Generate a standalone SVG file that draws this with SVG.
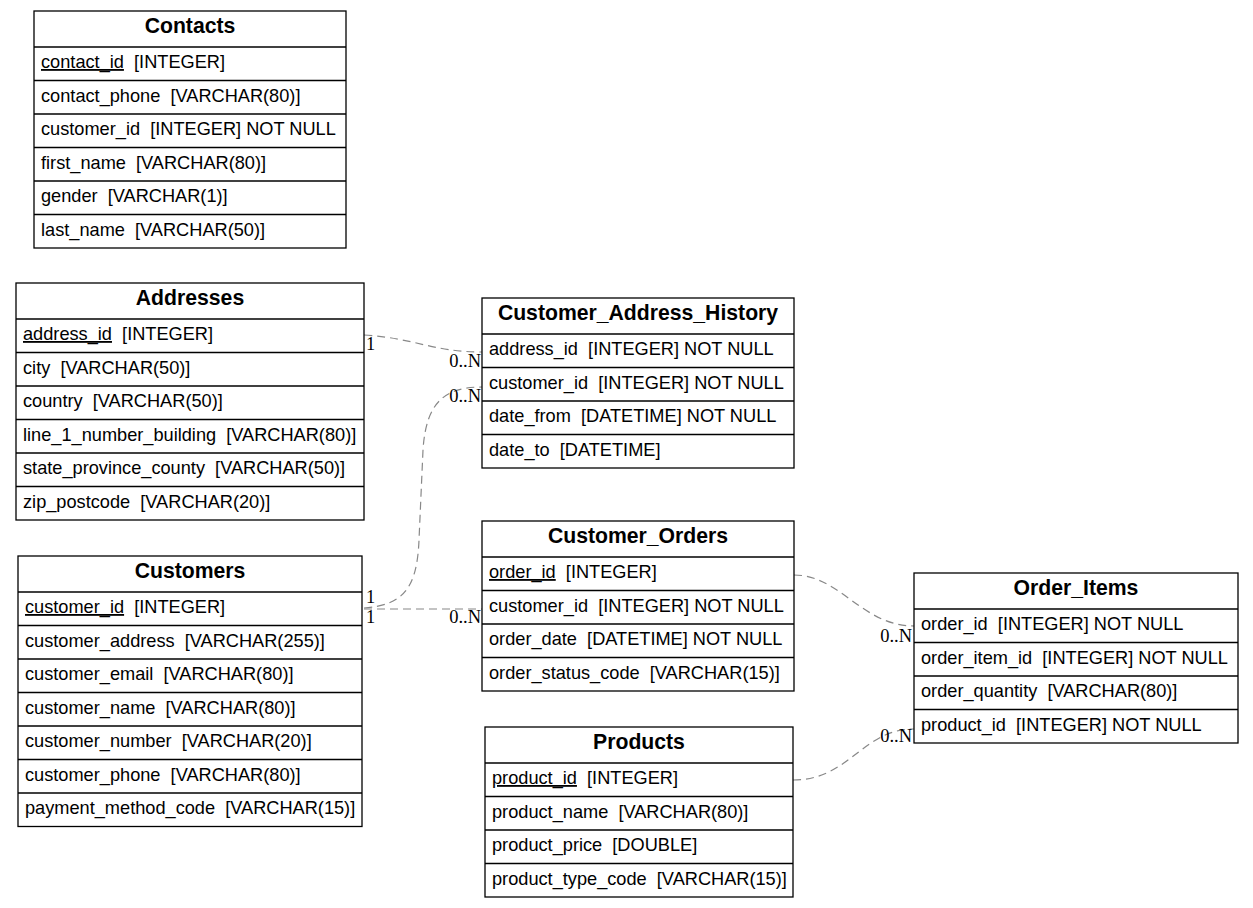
<svg xmlns="http://www.w3.org/2000/svg" width="1253" height="908" viewBox="0 0 1253 908">
<style>
.box{fill:#fff;stroke:#000;stroke-width:1.3}
.sep{stroke:#000;stroke-width:1.3}
.t{font-family:"Liberation Sans",Arial,sans-serif;font-size:21.2px;font-weight:bold;text-anchor:middle;fill:#000}
.r{font-family:"Liberation Sans",Arial,sans-serif;font-size:18.2px;fill:#000;white-space:pre}
.pk{text-decoration:underline}
.e{fill:none;stroke:#888;stroke-width:1.2;stroke-dasharray:8,5}
.l{font-family:"Liberation Serif","Times New Roman",serif;font-size:18.5px;fill:#000}
.le{font-family:"Liberation Serif","Times New Roman",serif;font-size:18.5px;fill:#000;text-anchor:end}
</style>
<rect width="1253" height="908" fill="#fff"/>

<g id="connectors">
<path class="e" d="M364,335 C415,338 432,352 482,352"/>
<path class="e" d="M364,608 C402,605 417,590 419,540 L423,450 C426,402 445,387 482,387"/>
<path class="e" d="M364,609 L482,609"/>
<path class="e" d="M794,575 C840,575 862,626 914,626"/>
<path class="e" d="M793,780 C850,780 862,729 914,729"/>
<text class="l" x="366" y="350">1</text>
<text class="le" x="481" y="367">0..N</text>
<text class="le" x="481" y="402">0..N</text>
<text class="l" x="366" y="603">1</text>
<text class="l" x="366" y="623">1</text>
<text class="le" x="481" y="623">0..N</text>
<text class="le" x="795" y="590">1</text>
<text class="le" x="912" y="642">0..N</text>
<text class="le" x="912" y="742">0..N</text>
<text class="le" x="794" y="795">1</text>
</g>

<g id="Contacts">
<rect class="box" x="34" y="11" width="312" height="237"/>
<line class="sep" x1="34" y1="47" x2="346" y2="47"/>
<line class="sep" x1="34" y1="80.5" x2="346" y2="80.5"/>
<line class="sep" x1="34" y1="114" x2="346" y2="114"/>
<line class="sep" x1="34" y1="147.5" x2="346" y2="147.5"/>
<line class="sep" x1="34" y1="181" x2="346" y2="181"/>
<line class="sep" x1="34" y1="214.5" x2="346" y2="214.5"/>
<text class="t" x="190" y="32.5">Contacts</text>
<text class="r" x="41" y="68"><tspan class="pk">contact_id</tspan>  [INTEGER]</text>
<text class="r" x="41" y="101.5">contact_phone  [VARCHAR(80)]</text>
<text class="r" x="41" y="135">customer_id  [INTEGER] NOT NULL</text>
<text class="r" x="41" y="168.5">first_name  [VARCHAR(80)]</text>
<text class="r" x="41" y="202">gender  [VARCHAR(1)]</text>
<text class="r" x="41" y="235.5">last_name  [VARCHAR(50)]</text>
</g>

<g id="Addresses">
<rect class="box" x="16" y="283" width="348" height="237"/>
<line class="sep" x1="16" y1="319" x2="364" y2="319"/>
<line class="sep" x1="16" y1="352.5" x2="364" y2="352.5"/>
<line class="sep" x1="16" y1="386" x2="364" y2="386"/>
<line class="sep" x1="16" y1="419.5" x2="364" y2="419.5"/>
<line class="sep" x1="16" y1="453" x2="364" y2="453"/>
<line class="sep" x1="16" y1="486.5" x2="364" y2="486.5"/>
<text class="t" x="190" y="304.5">Addresses</text>
<text class="r" x="23" y="340"><tspan class="pk">address_id</tspan>  [INTEGER]</text>
<text class="r" x="23" y="373.5">city  [VARCHAR(50)]</text>
<text class="r" x="23" y="407">country  [VARCHAR(50)]</text>
<text class="r" x="23" y="440.5">line_1_number_building  [VARCHAR(80)]</text>
<text class="r" x="23" y="474">state_province_county  [VARCHAR(50)]</text>
<text class="r" x="23" y="507.5">zip_postcode  [VARCHAR(20)]</text>
</g>

<g id="Customer_Address_History">
<rect class="box" x="482" y="298" width="312" height="170"/>
<line class="sep" x1="482" y1="334" x2="794" y2="334"/>
<line class="sep" x1="482" y1="367.5" x2="794" y2="367.5"/>
<line class="sep" x1="482" y1="401" x2="794" y2="401"/>
<line class="sep" x1="482" y1="434.5" x2="794" y2="434.5"/>
<text class="t" x="638" y="319.5">Customer_Address_History</text>
<text class="r" x="489" y="355">address_id  [INTEGER] NOT NULL</text>
<text class="r" x="489" y="388.5">customer_id  [INTEGER] NOT NULL</text>
<text class="r" x="489" y="422">date_from  [DATETIME] NOT NULL</text>
<text class="r" x="489" y="455.5">date_to  [DATETIME]</text>
</g>

<g id="Customers">
<rect class="box" x="18" y="556" width="344" height="270.5"/>
<line class="sep" x1="18" y1="592" x2="362" y2="592"/>
<line class="sep" x1="18" y1="625.5" x2="362" y2="625.5"/>
<line class="sep" x1="18" y1="659" x2="362" y2="659"/>
<line class="sep" x1="18" y1="692.5" x2="362" y2="692.5"/>
<line class="sep" x1="18" y1="726" x2="362" y2="726"/>
<line class="sep" x1="18" y1="759.5" x2="362" y2="759.5"/>
<line class="sep" x1="18" y1="793" x2="362" y2="793"/>
<text class="t" x="190" y="577.5">Customers</text>
<text class="r" x="25" y="613"><tspan class="pk">customer_id</tspan>  [INTEGER]</text>
<text class="r" x="25" y="646.5">customer_address  [VARCHAR(255)]</text>
<text class="r" x="25" y="680">customer_email  [VARCHAR(80)]</text>
<text class="r" x="25" y="713.5">customer_name  [VARCHAR(80)]</text>
<text class="r" x="25" y="747">customer_number  [VARCHAR(20)]</text>
<text class="r" x="25" y="780.5">customer_phone  [VARCHAR(80)]</text>
<text class="r" x="25" y="814">payment_method_code  [VARCHAR(15)]</text>
</g>

<g id="Customer_Orders">
<rect class="box" x="482" y="521" width="312" height="170"/>
<line class="sep" x1="482" y1="557" x2="794" y2="557"/>
<line class="sep" x1="482" y1="590.5" x2="794" y2="590.5"/>
<line class="sep" x1="482" y1="624" x2="794" y2="624"/>
<line class="sep" x1="482" y1="657.5" x2="794" y2="657.5"/>
<text class="t" x="638" y="542.5">Customer_Orders</text>
<text class="r" x="489" y="578"><tspan class="pk">order_id</tspan>  [INTEGER]</text>
<text class="r" x="489" y="611.5">customer_id  [INTEGER] NOT NULL</text>
<text class="r" x="489" y="645">order_date  [DATETIME] NOT NULL</text>
<text class="r" x="489" y="678.5">order_status_code  [VARCHAR(15)]</text>
</g>

<g id="Products">
<rect class="box" x="485" y="727" width="308" height="170"/>
<line class="sep" x1="485" y1="763" x2="793" y2="763"/>
<line class="sep" x1="485" y1="796.5" x2="793" y2="796.5"/>
<line class="sep" x1="485" y1="830" x2="793" y2="830"/>
<line class="sep" x1="485" y1="863.5" x2="793" y2="863.5"/>
<text class="t" x="639" y="748.5">Products</text>
<text class="r" x="492" y="784"><tspan class="pk">product_id</tspan>  [INTEGER]</text>
<text class="r" x="492" y="817.5">product_name  [VARCHAR(80)]</text>
<text class="r" x="492" y="851">product_price  [DOUBLE]</text>
<text class="r" x="492" y="884.5">product_type_code  [VARCHAR(15)]</text>
</g>

<g id="Order_Items">
<rect class="box" x="914" y="573" width="324" height="170"/>
<line class="sep" x1="914" y1="609" x2="1238" y2="609"/>
<line class="sep" x1="914" y1="642.5" x2="1238" y2="642.5"/>
<line class="sep" x1="914" y1="676" x2="1238" y2="676"/>
<line class="sep" x1="914" y1="709.5" x2="1238" y2="709.5"/>
<text class="t" x="1076" y="594.5">Order_Items</text>
<text class="r" x="921" y="630">order_id  [INTEGER] NOT NULL</text>
<text class="r" x="921" y="663.5">order_item_id  [INTEGER] NOT NULL</text>
<text class="r" x="921" y="697">order_quantity  [VARCHAR(80)]</text>
<text class="r" x="921" y="730.5">product_id  [INTEGER] NOT NULL</text>
</g>
</svg>
